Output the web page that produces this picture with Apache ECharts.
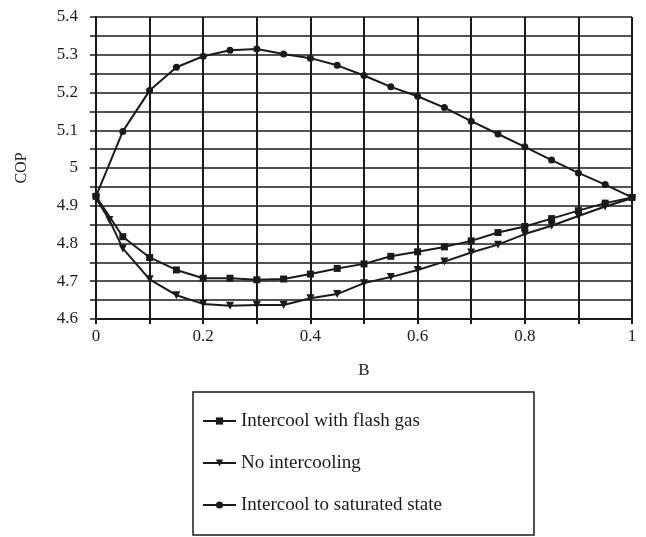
<!DOCTYPE html>
<html>
<head>
<meta charset="utf-8">
<script src="https://cdn.jsdelivr.net/npm/echarts@6/dist/echarts.min.js"></script>
<style>
  html, body { margin: 0; padding: 0; background: #fff; }
  #chart { width: 646px; height: 537px; }
</style>
</head>
<body>
<div id="chart"></div>
<script>
// B values (fraction) and COP
const bSteps = [0, 0.05, 0.1, 0.15, 0.2, 0.25, 0.3, 0.35, 0.4, 0.45, 0.5,
  0.55, 0.6, 0.65, 0.7, 0.75, 0.8, 0.85, 0.9, 0.95, 1];
const bNoInter = [0, 0.025, 0.05, 0.1, 0.15, 0.2, 0.25, 0.3, 0.35, 0.4, 0.45, 0.5,
  0.55, 0.6, 0.65, 0.7, 0.75, 0.8, 0.85, 0.9, 0.95, 1];

const copFlashGas = [4.925, 4.818, 4.763, 4.73, 4.708, 4.708, 4.704, 4.706, 4.719, 4.734, 4.746,
  4.766, 4.778, 4.791, 4.807, 4.829, 4.845, 4.866, 4.887, 4.907, 4.922];
const copNoInter = [4.92, 4.862, 4.787, 4.705, 4.663, 4.64, 4.635, 4.637, 4.637, 4.655, 4.666, 4.695,
  4.711, 4.73, 4.752, 4.776, 4.797, 4.825, 4.847, 4.873, 4.898, 4.92];
const copSaturated = [4.925, 5.097, 5.205, 5.267, 5.296, 5.312, 5.315, 5.302, 5.291, 5.272, 5.245,
  5.215, 5.19, 5.16, 5.124, 5.09, 5.056, 5.021, 4.987, 4.956, 4.922];

const seriesNames = ['Intercool with flash gas', 'No intercooling', 'Intercool to saturated state'];

const pairs = (xs, ys) => xs.map((x, i) => [x, ys[i]]);

const ink = '#1a1a1a';
const font = 'Liberation Serif, Times New Roman, serif';

const chart = echarts.init(document.getElementById('chart'));

const lineSeries = (name, data, symbol, rotate) => ({
  name: name,
  type: 'line',
  data: data,
  symbol: symbol,
  symbolSize: symbol === 'triangle' ? 8 : 7,
  symbolRotate: rotate,
  showAllSymbol: true,
  lineStyle: { color: ink, width: 2 },
  itemStyle: { color: ink, borderWidth: 0 },
  emphasis: { disabled: true },
  animation: false,
});

chart.setOption({
  animation: false,
  textStyle: { fontFamily: font, color: ink },
  grid: { left: 96, right: 14, top: 17, bottom: 218 },
  xAxis: {
    type: 'value',
    min: 0,
    max: 1,
    interval: 0.1,
    name: 'B',
    nameLocation: 'middle',
    nameGap: 43,
    nameTextStyle: { fontSize: 17, color: ink, fontFamily: font },
    axisLine: { lineStyle: { color: ink, width: 2 } },
    axisTick: { show: true, length: 5, lineStyle: { color: ink, width: 2 } },
    axisLabel: {
      fontSize: 17,
      color: ink,
      margin: 9,
      formatter: v => (Math.round(v * 10) % 2 === 0 ? String(Math.round(v * 10) / 10) : ''),
    },
    splitLine: { show: true, lineStyle: { color: ink, width: 2 } },
  },
  yAxis: {
    type: 'value',
    min: 4.6,
    max: 5.4,
    interval: 0.05,
    name: 'COP',
    nameLocation: 'middle',
    nameGap: 66,
    nameTextStyle: { fontSize: 16, color: ink, fontFamily: font },
    axisLine: { show: true, lineStyle: { color: ink, width: 2 } },
    axisTick: { show: true, length: 6, lineStyle: { color: ink, width: 1.5 } },
    axisLabel: {
      fontSize: 17,
      color: ink,
      margin: 18,
      formatter: v => (Math.round(v * 100) % 10 === 0 ? String(Math.round(v * 10) / 10) : ''),
    },
    splitLine: { show: true, lineStyle: { color: ink, width: 1.6 } },
  },
  legend: {
    data: seriesNames,
    orient: 'vertical',
    left: 193,
    top: 392,
    height: 110,
    padding: [19, 92, 20, 9],
    itemWidth: 33,
    itemHeight: 9,
    itemGap: 22,
    itemTextGap: 7,
    borderColor: ink,
    borderWidth: 1.5,
    textStyle: { fontSize: 19, lineHeight: 20, color: ink, fontFamily: font },
  },
  series: [
    lineSeries(seriesNames[0], pairs(bSteps, copFlashGas), 'rect', 0),
    lineSeries(seriesNames[1], pairs(bNoInter, copNoInter), 'triangle', 180),
    lineSeries(seriesNames[2], pairs(bSteps, copSaturated), 'circle', 0),
  ],
});
</script>
</body>
</html>
